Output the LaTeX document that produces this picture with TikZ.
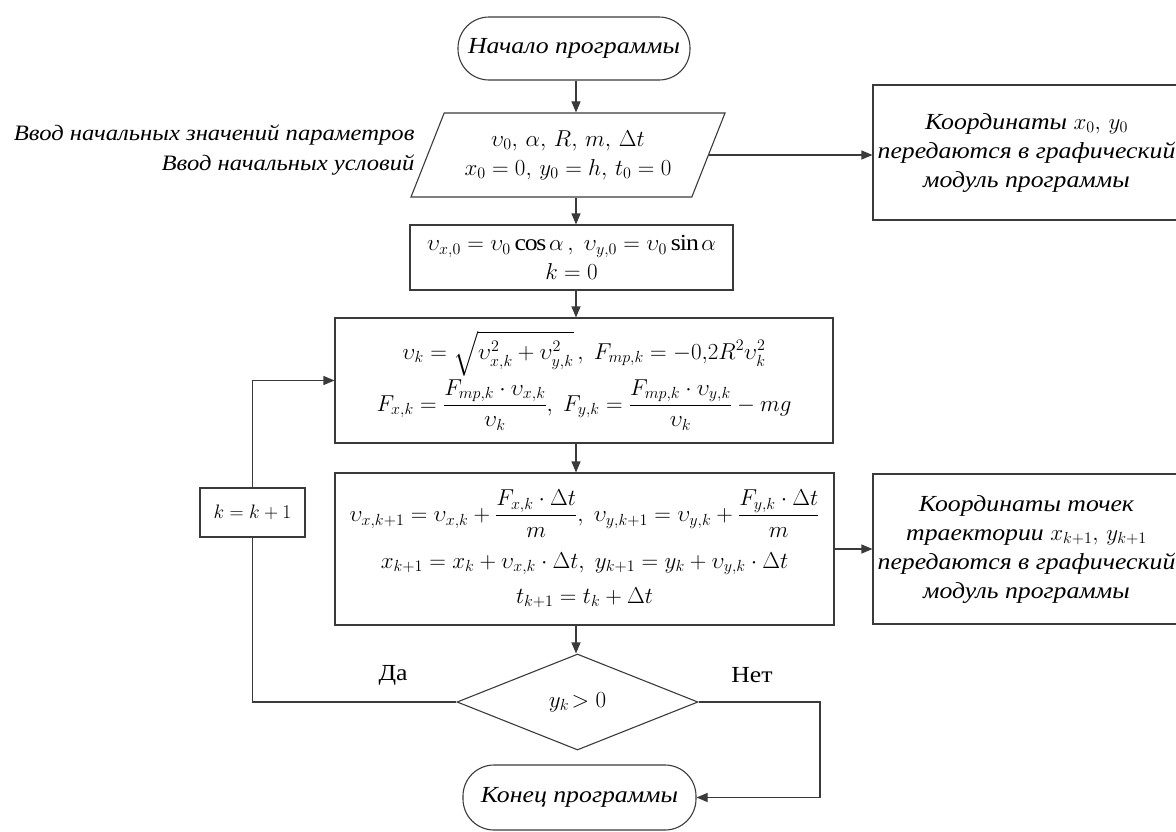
\RequirePackage{fix-cm}
\documentclass[tikz,border=0pt]{standalone}
\usepackage{amsmath}
\usepackage{fontspec}
\setmainfont[FakeStretch=1.12]{Liberation Serif}
\usetikzlibrary{arrows.meta,shapes.geometric}
\definecolor{fcline}{HTML}{3A3A3A}

\begin{document}
\begin{tikzpicture}[x=1pt,y=-1pt,
  font=\fontsize{23}{29}\selectfont,
  fcbox/.style={draw=fcline,line width=1.1pt,inner sep=0pt,align=center},
  termbox/.style={fcbox,rounded corners=31pt,font=\fontsize{23}{29}\selectfont\itshape},
  iobox/.style={fcbox,trapezium,trapezium left angle=56,trapezium right angle=124,
                trapezium stretches body},
  decbox/.style={fcbox,diamond},
  notebox/.style={fcbox,font=\fontsize{23}{29}\selectfont\itshape},
  flowarr/.style={draw=fcline,line width=1.1pt,-{Triangle[length=11pt,width=9pt]}},
  flowline/.style={draw=fcline,line width=1.1pt}]
\useasboundingbox (0,0) rectangle (1176,831);

% main column
\node[termbox,minimum width=232,minimum height=63] (start) at (574,48.5) {Начало программы};
\node[iobox,minimum width=314,minimum height=84] (params) at (568,155)
  {$\upsilon_0,\,\alpha,\,R,\,m,\,\Delta t$\\ $x_0=0,\,y_0=h,\,t_0=0$};
\node[fcbox,minimum width=323,minimum height=65] (init) at (571.5,257.5)
  {$\upsilon_{x,0}=\upsilon_0\cos\alpha\,,\ \upsilon_{y,0}=\upsilon_0\sin\alpha$\\ $k=0$};
\node[fcbox,minimum width=498,minimum height=125] (force) at (584,380.5)
  {$\upsilon_k=\sqrt{\upsilon_{x,k}^2+\upsilon_{y,k}^2}\,,\ F_{mp,k}=-0{,}2R^2\upsilon_k^2$\\[2pt]
   $F_{x,k}=\dfrac{F_{mp,k}\cdot\upsilon_{x,k}}{\upsilon_k},\ F_{y,k}=\dfrac{F_{mp,k}\cdot\upsilon_{y,k}}{\upsilon_k}-mg$};
\node[fcbox,minimum width=499,minimum height=152] (step) at (584.5,549)
  {$\upsilon_{x,k+1}=\upsilon_{x,k}+\dfrac{F_{x,k}\cdot\Delta t}{m},\ \upsilon_{y,k+1}=\upsilon_{y,k}+\dfrac{F_{y,k}\cdot\Delta t}{m}$\\[14pt]
   $x_{k+1}=x_k+\upsilon_{x,k}\cdot\Delta t,\ y_{k+1}=y_k+\upsilon_{y,k}\cdot\Delta t$\\[6pt]
   $t_{k+1}=t_k+\Delta t$};
\node[decbox,minimum width=241,minimum height=96] (cond) at (577.5,702) {$y_k\!>0$};
\node[termbox,minimum width=233,minimum height=65] (stop) at (579.5,797.5) {Конец программы};

% side boxes
\node[align=right,anchor=east,font=\fontsize{22}{30}\selectfont\itshape] (inlabel) at (418,150)
  {Ввод начальных значений параметров\\ Ввод начальных условий};
\node[notebox,minimum width=307,minimum height=135] (out1) at (1026.5,152.5)
  {Координаты $x_0,\,y_0$\\ передаются в графический\\ модуль программы};
\node[notebox,minimum width=307,minimum height=150] (out2) at (1026.5,549)
  {Координаты точек\\ траектории $x_{k+1},\,y_{k+1}$\\ передаются в графический\\ модуль программы};
\node[fcbox,minimum width=105,minimum height=49,font=\fontsize{19.5}{23}\selectfont] (incr) at (252.5,512.5) {$k=k+1$};

\node (yes) at (393,675) {Да};
\node (no) at (752,675) {Нет};

\coordinate (axis) at (576,0);
\coordinate (noturn) at (820,702);

% connectors
\draw[flowarr] (axis |- start.south) -- (axis |- params.north);
\draw[flowarr] (axis |- params.south) -- (axis |- init.north);
\draw[flowarr] (axis |- init.south) -- (axis |- force.north);
\draw[flowarr] (axis |- force.south) -- (axis |- step.north);
\draw[flowarr] (axis |- step.south) -- (axis |- cond.north);
\draw[flowarr] (params.east) -- (params.east -| out1.west);
\draw[flowarr] (step.east) -- (step.east -| out2.west);
\draw[flowline] (cond.west) -| (incr.south);
\draw[flowarr] (incr.north) |- (force.west);
\draw[flowarr] (cond.east) -- (noturn) |- (stop.east);
\end{tikzpicture}
\end{document}
